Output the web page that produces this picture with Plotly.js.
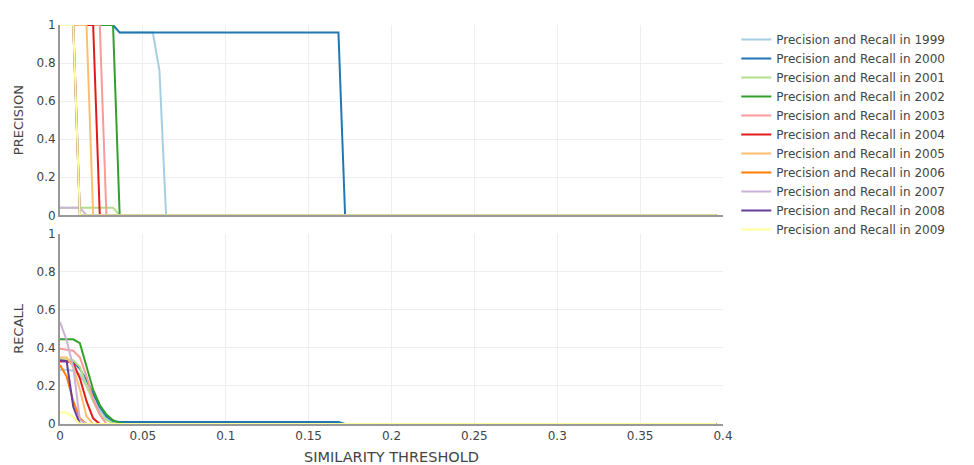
<!DOCTYPE html>
<html>
<head>
<meta charset="utf-8">
<script src="https://cdn.plot.ly/plotly-3.0.1.min.js"></script>
<style>
  body { margin: 0; }
  #chart { width: 974px; height: 465px; }
</style>
</head>
<body>
<div id="chart"></div>
<script>
// similarity thresholds where the curves change
const thresholds = [0, 0.004, 0.008, 0.012, 0.016, 0.02, 0.024, 0.028, 0.032, 0.036, 0.04,
                    0.056, 0.06, 0.064, 0.168, 0.172, 0.396];

const years = ["1999", "2000", "2001", "2002", "2003", "2004", "2005", "2006", "2007", "2008", "2009"];
const colors = ["#a6cee3", "#1f78b4", "#b2df8a", "#33a02c", "#fb9a99", "#e31a1c",
                "#fdbf6f", "#ff7f00", "#cab2d6", "#6a3d9a", "#ffff99"];

const precision1999 = [1, 1, 1, 1, 1, 1, 1, 1, 1, 0.96, 0.96, 0.96, 0.76, 0, 0, 0, 0];
const precision2000 = [1, 1, 1, 1, 1, 1, 1, 1, 1, 0.96, 0.96, 0.96, 0.96, 0.96, 0.96, 0, 0];
const precision2001 = [0.04, 0.04, 0.04, 0.04, 0.04, 0.04, 0.04, 0.04, 0.04, 0, 0, 0, 0, 0, 0, 0, 0];
const precision2002 = [1, 1, 1, 1, 1, 1, 1, 1, 1, 0, 0, 0, 0, 0, 0, 0, 0];
const precision2003 = [1, 1, 1, 1, 1, 1, 1, 0, 0, 0, 0, 0, 0, 0, 0, 0, 0];
const precision2004 = [1, 1, 1, 1, 1, 1, 0, 0, 0, 0, 0, 0, 0, 0, 0, 0, 0];
const precision2005 = [1, 1, 1, 1, 1, 0, 0, 0, 0, 0, 0, 0, 0, 0, 0, 0, 0];
const precision2006 = [1, 1, 1, 0, 0, 0, 0, 0, 0, 0, 0, 0, 0, 0, 0, 0, 0];
const precision2007 = [0.04, 0.04, 0.04, 0.04, 0, 0, 0, 0, 0, 0, 0, 0, 0, 0, 0, 0, 0];
const precision2008 = [1, 1, 1, 0, 0, 0, 0, 0, 0, 0, 0, 0, 0, 0, 0, 0, 0];
const precision2009 = [1, 1, 1, 0, 0, 0, 0, 0, 0, 0, 0, 0, 0, 0, 0, 0, 0];

const recall1999 = [0.285, 0.285, 0.28, 0.26, 0.2, 0.13, 0.07, 0.03, 0.012, 0.006, 0.005, 0.005, 0.003, 0, 0, 0, 0];
const recall2000 = [0.33, 0.33, 0.325, 0.29, 0.23, 0.16, 0.09, 0.04, 0.015, 0.01, 0.01, 0.01, 0.01, 0.01, 0.01, 0, 0];
const recall2001 = [0.34, 0.34, 0.335, 0.3, 0.2, 0.12, 0.05, 0.02, 0.005, 0, 0, 0, 0, 0, 0, 0, 0];
const recall2002 = [0.445, 0.445, 0.445, 0.425, 0.3, 0.18, 0.1, 0.05, 0.02, 0.005, 0, 0, 0, 0, 0, 0, 0];
const recall2003 = [0.395, 0.39, 0.385, 0.35, 0.25, 0.13, 0.05, 0, 0, 0, 0, 0, 0, 0, 0, 0, 0];
const recall2004 = [0.33, 0.33, 0.32, 0.24, 0.12, 0.03, 0, 0, 0, 0, 0, 0, 0, 0, 0, 0, 0];
const recall2005 = [0.35, 0.35, 0.3, 0.18, 0.04, 0, 0, 0, 0, 0, 0, 0, 0, 0, 0, 0, 0];
const recall2006 = [0.31, 0.25, 0.12, 0.03, 0, 0, 0, 0, 0, 0, 0, 0, 0, 0, 0, 0, 0];
const recall2007 = [0.535, 0.44, 0.3, 0.02, 0, 0, 0, 0, 0, 0, 0, 0, 0, 0, 0, 0, 0];
const recall2008 = [0.335, 0.33, 0.09, 0, 0, 0, 0, 0, 0, 0, 0, 0, 0, 0, 0, 0, 0];
const recall2009 = [0.06, 0.06, 0.035, 0, 0, 0, 0, 0, 0, 0, 0, 0, 0, 0, 0, 0, 0];

const precisions = [precision1999, precision2000, precision2001, precision2002, precision2003, precision2004,
                    precision2005, precision2006, precision2007, precision2008, precision2009];
const recalls = [recall1999, recall2000, recall2001, recall2002, recall2003, recall2004,
                 recall2005, recall2006, recall2007, recall2008, recall2009];

const data = [];
years.forEach(function (year, i) {
    data.push({
        x: thresholds, y: precisions[i],
        xaxis: "x2", yaxis: "y2",
        mode: "lines", type: "scatter",
        name: "Precision and Recall in " + year,
        legendgroup: year,
        line: { color: colors[i], width: 2 },
    });
});
years.forEach(function (year, i) {
    data.push({
        x: thresholds, y: recalls[i],
        xaxis: "x", yaxis: "y",
        mode: "lines", type: "scatter",
        name: "Precision and Recall in " + year,
        legendgroup: year,
        showlegend: false,
        line: { color: colors[i], width: 2 },
    });
});

const axisStyle = {
    showline: true, linecolor: "#999", linewidth: 2,
    gridcolor: "#eee", zeroline: false,
};

const layout = {
    width: 974, height: 465,
    margin: { l: 60, r: 251, t: 25, b: 41 },
    font: { family: "DejaVu Sans, Verdana, sans-serif", size: 12, color: "#444" },
    paper_bgcolor: "#fff", plot_bgcolor: "#fff",
    showlegend: true,
    legend: { font: { size: 12 }, tracegroupgap: 0 },
    xaxis: Object.assign({
        domain: [0, 1], anchor: "y", range: [0, 0.4], dtick: 0.05,
        title: { text: "SIMILARITY THRESHOLD", font: { size: 14.5 }, standoff: 12 },
    }, axisStyle),
    xaxis2: Object.assign({
        domain: [0, 1], anchor: "y2", range: [0, 0.4], dtick: 0.05,
        matches: "x", showticklabels: false,
    }, axisStyle),
    yaxis: Object.assign({
        domain: [0, 0.477], anchor: "x", range: [0, 1], dtick: 0.2,
        title: { text: "RECALL", font: { size: 13 } },
    }, axisStyle),
    yaxis2: Object.assign({
        domain: [0.523, 1], anchor: "x2", range: [0, 1], dtick: 0.2,
        title: { text: "PRECISION", font: { size: 13 } },
    }, axisStyle),
};

Plotly.newPlot("chart", data, layout, { displayModeBar: false });
</script>
</body>
</html>
